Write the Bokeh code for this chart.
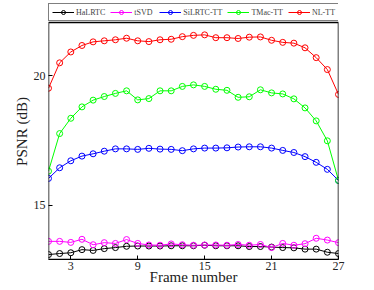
from bokeh.plotting import figure
from bokeh.models import Range1d, FixedTicker, Legend, LegendItem, BoxAnnotation
from bokeh.embed import file_html
from bokeh.resources import INLINE

frames = list(range(1, 28))
halrtc = [13.09, 13.13, 13.16, 13.28, 13.25, 13.32, 13.36, 13.41, 13.42, 13.42,
          13.42, 13.43, 13.43, 13.43, 13.45, 13.43, 13.43, 13.43, 13.40, 13.40,
          13.38, 13.36, 13.35, 13.30, 13.30, 13.18, 13.13]
tsvd = [13.60, 13.60, 13.56, 13.68, 13.47, 13.55, 13.52, 13.67, 13.52, 13.46,
        13.45, 13.50, 13.47, 13.45, 13.46, 13.46, 13.45, 13.48, 13.45, 13.48,
        13.36, 13.52, 13.45, 13.51, 13.72, 13.65, 13.55]
silrtc_tt = [16.03, 16.44, 16.71, 16.89, 16.98, 17.08, 17.17, 17.17, 17.15, 17.19,
             17.16, 17.15, 17.10, 17.17, 17.20, 17.20, 17.21, 17.24, 17.25, 17.25,
             17.20, 17.11, 17.03, 16.87, 16.65, 16.38, 15.95]
tmac_tt = [16.31, 17.76, 18.35, 18.79, 19.05, 19.19, 19.31, 19.41, 19.06, 19.11,
           19.41, 19.41, 19.58, 19.64, 19.58, 19.47, 19.43, 19.16, 19.18, 19.45,
           19.33, 19.29, 19.10, 18.75, 18.25, 17.48, 15.95]
nl_tt = [19.51, 20.49, 20.91, 21.16, 21.30, 21.34, 21.38, 21.44, 21.34, 21.31,
         21.38, 21.40, 21.50, 21.55, 21.57, 21.46, 21.46, 21.43, 21.48, 21.49,
         21.36, 21.28, 21.25, 21.07, 20.69, 20.23, 19.27]

series_names = ["HaLRTC", "tSVD", "SiLRTC-TT", "TMac-TT", "NL-TT"]
series_values = [halrtc, tsvd, silrtc_tt, tmac_tt, nl_tt]
series_colors = ["#000000", "#ff00ff", "#0000ff", "#00ff00", "#ff0000"]
x_ticks = [3, 9, 15, 21, 27]
y_ticks = [10, 15, 20, 25]
x_lim = (1, 27)
y_lim = (12.9, 22.05)      # axes box limits
y_view_top = 22.78         # extra room above the box for the legend

FONT = "Liberation Serif"

p = figure(width=374, height=290, output_backend="svg", toolbar_location=None,
           x_range=Range1d(*x_lim), y_range=Range1d(y_lim[0], y_view_top),
           min_border_left=48, min_border_right=36, min_border_top=3,
           min_border_bottom=31, background_fill_color="white",
           border_fill_color="white")
p.xgrid.visible = False
p.ygrid.visible = False
p.outline_line_color = None

# axes box (top edge at the upper y limit)
p.add_layout(BoxAnnotation(top=y_lim[1], fill_alpha=0, line_color="black",
                           line_width=1.5, line_alpha=1))

items = []
for name, vals, col in zip(series_names, series_values, series_colors):
    r1 = p.line(frames, vals, line_color=col, line_width=1)
    r2 = p.scatter(frames, vals, marker="circle", size=6, line_color=col,
                   fill_color=None, line_width=1)
    items.append(LegendItem(label=name, renderers=[r1, r2]))

for ax, ticks in ((p.xaxis[0], x_ticks), (p.yaxis[0], y_ticks)):
    ax.ticker = FixedTicker(ticks=ticks)
    ax.minor_tick_line_color = None
    ax.major_tick_in = 4
    ax.major_tick_out = 0
    ax.axis_line_color = "black"
    ax.major_tick_line_color = "black"
    ax.major_label_text_font = FONT
    ax.major_label_text_font_size = "12px"
    ax.major_label_text_color = "#222222"
    ax.axis_label_text_font = FONT
    ax.axis_label_text_font_size = "15px"
    ax.axis_label_text_font_style = "normal"
    ax.axis_label_text_color = "#222222"

p.yaxis[0].axis_line_color = None
p.xaxis[0].axis_label = "Frame number"
p.yaxis[0].axis_label = "PSNR (dB)"
p.xaxis[0].major_label_standoff = 2
p.xaxis[0].axis_label_standoff = -4
p.yaxis[0].major_label_standoff = 3
p.yaxis[0].axis_label_standoff = 1

legend = Legend(items=items, orientation="horizontal", location="top_left",
                glyph_width=22, glyph_height=10, label_standoff=2, spacing=5,
                padding=3, margin=0, label_text_font=FONT,
                label_text_font_size="8px", border_line_color="black",
                border_line_width=1, label_height=10,
                background_fill_color="white", background_fill_alpha=1)
p.add_layout(legend, "center")

open("out.html", "w").write(file_html(p, INLINE))
